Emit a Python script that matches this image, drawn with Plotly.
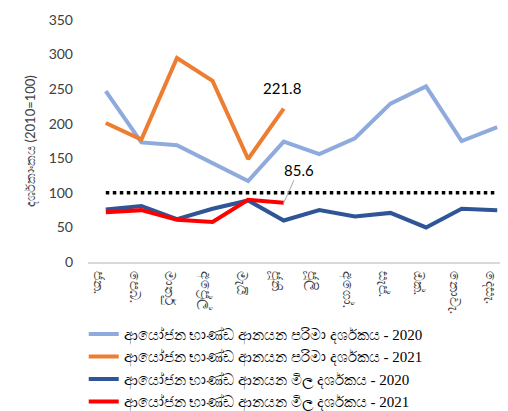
import plotly.graph_objects as go

months = ['ජන.', 'පෙබ.', 'මාර්තු', 'අප්‍රේල්', 'මැයි', 'ජූනි', 'ජූලි', 'අගෝ.', 'සැප්.', 'ඔක්.', 'නොවැ.', 'දෙසැ.']

vol_2020 = [247, 173, 169, 143, 117, 174, 156, 179, 229, 254, 175, 195]
vol_2021 = [201, 177, 295, 262, 149, 221.8]
price_2020 = [76, 81, 62, 77, 89, 60, 75, 66, 71, 50, 77, 75]
price_2021 = [72, 75, 61, 58, 90, 85.6]
base_line = [100] * 12

names = [
    'ආයෝජන භාණ්ඩ ආනයන පරිමා දර්ශකය - 2020',
    'ආයෝජන භාණ්ඩ ආනයන පරිමා දර්ශකය - 2021',
    'ආයෝජන භාණ්ඩ ආනයන මිල දර්ශකය - 2020',
    'ආයෝජන භාණ්ඩ ආනයන මිල දර්ශකය - 2021',
]

fig = go.Figure()
fig.add_trace(go.Scatter(x=months, y=base_line, mode='lines', showlegend=False,
                         line=dict(color='black', width=3.5, dash='dot'), hoverinfo='skip'))
fig.add_trace(go.Scatter(x=months, y=vol_2020, mode='lines', name=names[0],
                         line=dict(color='#8FAADC', width=4)))
fig.add_trace(go.Scatter(x=months[:6], y=vol_2021, mode='lines', name=names[1],
                         line=dict(color='#ED7D31', width=4)))
fig.add_trace(go.Scatter(x=months, y=price_2020, mode='lines', name=names[2],
                         line=dict(color='#2F5597', width=4)))
fig.add_trace(go.Scatter(x=months[:6], y=price_2021, mode='lines', name=names[3],
                         line=dict(color='#FF0000', width=4)))

fig.add_annotation(x=months[5], y=vol_2021[5], text=str(vol_2021[5]), showarrow=False,
                   xshift=-2, yshift=10, yanchor='bottom', font=dict(size=15, color='black'))
fig.add_annotation(x=months[5], y=price_2021[5], text=str(price_2021[5]), showarrow=True,
                   arrowhead=0, arrowwidth=1, arrowcolor='#a6a6a6', ax=15, ay=-33,
                   font=dict(size=15, color='black'))

fig.update_layout(
    width=508, height=411,
    margin=dict(l=80, r=1, t=12, b=150),
    paper_bgcolor='white', plot_bgcolor='white',
    font=dict(family='Lato, Noto Sans, sans-serif', size=14, color='#404040'),
    legend=dict(x=-0.01, y=-0.23, xanchor='left', yanchor='top', orientation='v',
                font=dict(family='Liberation Serif, serif', size=15, color='black'),
                bgcolor='rgba(0,0,0,0)'),
    showlegend=True,
)
fig.update_xaxes(showgrid=False, tickangle=90, showline=True, linecolor='#d9d9d9', linewidth=2,
                 range=[-0.5, 11.5], ticks='', ticklabelshift=-7, ticklabelstandoff=4,
                 tickfont=dict(size=14, color='#404040'))
fig.update_yaxes(range=[0, 350], dtick=50, showgrid=False, zeroline=False, showline=False,
                 ticklabelstandoff=14,
                 title=dict(text='දර්ශකාංකය (2010=100)', font=dict(size=13), standoff=10),
                 tickfont=dict(size=14, color='#404040'))

fig.write_html('out.html')
